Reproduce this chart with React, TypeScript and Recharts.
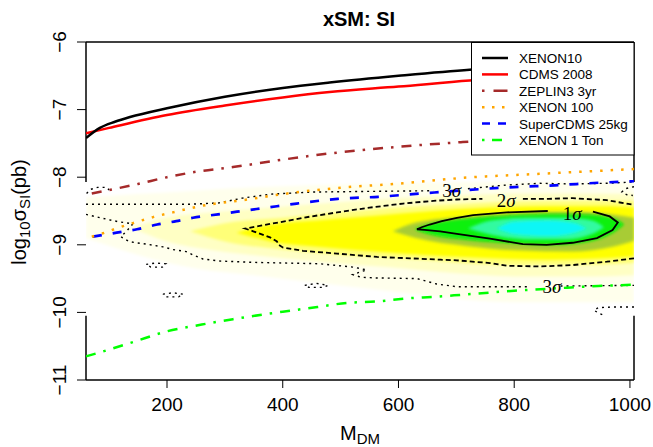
import React from 'react';
import { ComposedChart, Line, Area, Scatter, XAxis, YAxis, ReferenceLine } from 'recharts';

const massTicks = [200, 400, 600, 800, 1000];
const logTicks = [-11, -10, -9, -8, -7, -6];

type Row = [number, number | null];
type BandRow = [number, number, number];
const pts = (rows: Row[]) => rows.map(([m, v]) => ({ m, v }));
const band = (rows: BandRow[]) => rows.map(([m, lo, hi]) => ({ m, band: [lo, hi] }));

// experimental limits
const xenon10 = pts([[60, -7.42], [84, -7.27], [110, -7.18], [136, -7.11], [200, -6.98], [300, -6.81], [400, -6.68], [481, -6.6], [600, -6.5], [723, -6.41], [800, -6.37], [900, -6.32], [1007, -6.27]]);
const cdms2008 = pts([[60, -7.35], [100, -7.27], [200, -7.08], [300, -6.94], [400, -6.82], [481, -6.74], [600, -6.66], [723, -6.57], [800, -6.53], [900, -6.48], [1007, -6.43]]);
const zeplin3 = pts([[70, -8.24], [100, -8.19], [150, -8.1], [200, -8.0], [250, -7.92], [314, -7.85], [400, -7.74], [480, -7.65], [600, -7.55], [711, -7.48], [800, -7.43], [900, -7.38], [1007, -7.33]]);
const xenon100 = pts([[70, -8.88], [89, -8.83], [115, -8.75], [141, -8.68], [176, -8.59], [210, -8.52], [262, -8.42], [331, -8.34], [400, -8.25], [494, -8.16], [608, -8.09], [711, -8.01], [844, -7.95], [1007, -7.88]]);
const superCdms = pts([[72, -8.88], [113, -8.82], [148, -8.77], [183, -8.7], [216, -8.65], [245, -8.6], [288, -8.55], [321, -8.51], [355, -8.47], [390, -8.43], [424, -8.39], [495, -8.32], [565, -8.29], [640, -8.24], [792, -8.15], [870, -8.12], [950, -8.08], [1007, -8.06]]);
const xenon1ton = pts([[60, -10.65], [100, -10.55], [141, -10.44], [200, -10.28], [260, -10.18], [314, -10.1], [400, -9.99], [460, -9.92], [510, -9.86], [560, -9.84], [620, -9.79], [660, -9.77], [708, -9.74], [800, -9.68], [880, -9.64], [945, -9.61], [1007, -9.59]]);

// posterior density, drawn as nested bands
const haze = band([[60, -8.9, -8.3], [150, -9.15, -8.25], [250, -9.35, -8.2], [350, -9.45, -8.15], [450, -9.55, -8.12], [550, -9.65, -8.1], [650, -9.75, -8.08], [800, -9.85, -8.07], [1007, -9.85, -8.07]]);
const pale = band([[140, -8.75, -8.75], [200, -8.95, -8.6], [280, -9.08, -8.52], [380, -9.18, -8.45], [480, -9.26, -8.38], [580, -9.33, -8.32], [700, -9.42, -8.27], [820, -9.47, -8.24], [920, -9.47, -8.24], [1007, -9.45, -8.25]]);
const lightYellow = band([[240, -8.8, -8.8], [300, -8.95, -8.68], [400, -9.07, -8.6], [500, -9.15, -8.52], [600, -9.2, -8.45], [700, -9.26, -8.4], [800, -9.3, -8.36], [900, -9.3, -8.35], [1007, -9.27, -8.35]]);
const yellow = band([[320, -8.82, -8.82], [380, -8.95, -8.7], [460, -9.03, -8.64], [560, -9.1, -8.57], [660, -9.16, -8.5], [760, -9.2, -8.45], [860, -9.22, -8.43], [960, -9.2, -8.43], [1007, -9.17, -8.45]]);
const olive = band([[590, -8.8, -8.8], [630, -8.9, -8.67], [720, -9.02, -8.58], [800, -9.08, -8.53], [900, -9.1, -8.51], [970, -9.03, -8.55], [1007, -8.94, -8.6]]);
const green = band([[630, -8.78, -8.76], [660, -8.86, -8.68], [720, -8.93, -8.61], [800, -8.98, -8.56], [870, -9.0, -8.54], [930, -8.95, -8.55], [975, -8.8, -8.62], [990, -8.7, -8.7]]);
const aqua = band([[720, -8.76, -8.76], [760, -8.85, -8.64], [820, -8.92, -8.6], [890, -8.92, -8.6], [935, -8.84, -8.64], [955, -8.74, -8.74]]);
const cyan = band([[770, -8.76, -8.76], [800, -8.84, -8.66], [860, -8.87, -8.64], [905, -8.82, -8.68], [925, -8.76, -8.76]]);

// credible region contours
const sigma1 = pts([[936, -8.51], [965, -8.58], [979, -8.67], [970, -8.78], [943, -8.9], [901, -8.97], [856, -9.0], [815, -8.99], [758, -8.91], [701, -8.84], [672, -8.8], [645, -8.78], [632, -8.77], [640, -8.74], [654, -8.7], [675, -8.65], [701, -8.6], [729, -8.56], [787, -8.52], [858, -8.5]]);
const sigma2 = pts([[1007, -9.2], [960, -9.25], [901, -9.3], [844, -9.32], [787, -9.31], [758, -9.27], [701, -9.23], [672, -9.22], [620, -9.2], [563, -9.18], [494, -9.13], [435, -9.09], [400, -9.04], [393, -9.0], [390, -8.95], [378, -8.89], [365, -8.85], [349, -8.8], [335, -8.76], [360, -8.72], [405, -8.65], [435, -8.6], [494, -8.52], [550, -8.45], [608, -8.39], [660, -8.35], [701, -8.33], [745, -8.32], [780, null], [815, -8.32], [860, -8.32], [901, -8.31], [960, -8.34], [1007, -8.41]]);
const sigma3Upper = pts([[60, -8.4], [150, -8.4], [240, -8.4], [290, -8.38], [330, -8.31], [380, -8.25], [450, -8.22], [550, -8.21], [660, -8.2], [690, null], [720, -8.17], [780, -8.12], [844, -8.09], [900, -8.1], [960, -8.09], [1007, -8.07]]);
const sigma3Lower = pts([[60, -8.55], [100, -8.63], [117, -8.66], [141, -8.69], [130, -8.8], [120, -8.88], [134, -8.95], [146, -8.97], [164, -8.99], [193, -9.03], [210, -9.07], [233, -9.1], [245, -9.15], [262, -9.21], [290, -9.24], [350, -9.26], [405, -9.27], [464, -9.28], [521, -9.33], [545, -9.37], [521, -9.44], [535, -9.48], [560, -9.49], [632, -9.5], [666, -9.58], [701, -9.62], [827, -9.62], [850, null], [880, -9.61], [1007, -9.6]]);
const sigma3Islands = [
  pts([[61, -8.24], [68, -8.18], [80, -8.15], [96, -8.15], [100, -8.19]]),
  pts([[1007, -8.14], [992, -8.17], [986, -8.22], [995, -8.26], [1005, -8.27]]),
  pts([[164, -9.29], [180, -9.27], [198, -9.28], [192, -9.33], [172, -9.33], [164, -9.29]]),
  pts([[193, -9.73], [210, -9.71], [228, -9.73], [220, -9.77], [198, -9.77], [193, -9.73]]),
  pts([[438, -9.6], [458, -9.57], [478, -9.6], [470, -9.63], [445, -9.63], [438, -9.6]]),
  pts([[1007, -9.92], [970, -9.92], [945, -9.93], [938, -9.97], [948, -10.02], [958, -10.05]]),
];
const sigmaLabels = [
  { m: 692, v: -8.19, n: '3' },
  { m: 786, v: -8.34, n: '2' },
  { m: 900, v: -8.53, n: '1' },
  { m: 865, v: -9.61, n: '3' },
];

const legendItems = [
  { name: 'XENON10', color: '#000000', dash: undefined },
  { name: 'CDMS 2008', color: '#FF0000', dash: undefined },
  { name: 'ZEPLIN3 3yr', color: '#A52A2A', dash: '2.5 9 14 9' },
  { name: 'XENON 100', color: '#FFA500', dash: '2.5 7.5' },
  { name: 'SuperCDMS 25kg', color: '#0000FF', dash: '8 8' },
  { name: 'XENON 1 Ton', color: '#00FF00', dash: '2.5 7.5 10 7.5' },
];

const sans = '"Liberation Sans", Arial, Helvetica, sans-serif';
const serif = '"Liberation Serif", "Times New Roman", serif';

const XTick = (props: any) => (
  <text x={props.x} y={props.y} dy={21} textAnchor="middle" fontSize={19} fontFamily={sans} fill="#000">
    {props.payload.value}
  </text>
);

const YTick = (props: any) => {
  const x = props.x - 9;
  return (
    <text x={x} y={props.y} transform={`rotate(-90 ${x} ${props.y})`} textAnchor="middle" fontSize={19} fontFamily={sans} fill="#000">
      {String(props.payload.value).replace('-', '\u2212')}
    </text>
  );
};

const SigmaLabel = (props: any) => (
  <text x={props.cx} y={props.cy} dy="0.35em" textAnchor="middle" fontSize={19} fontFamily={serif} fill="#000">
    {props.payload.n}
    <tspan fontStyle="italic">σ</tspan>
  </text>
);

const bands = [
  { data: haze, fill: '#FFFFEC' },
  { data: pale, fill: '#FFFFC4' },
  { data: lightYellow, fill: '#FFFF78' },
  { data: yellow, fill: '#FFFF00' },
  { data: olive, fill: '#A8CC36' },
  { data: green, fill: '#08F008' },
  { data: aqua, fill: '#30FAA0' },
  { data: cyan, fill: '#10F6F6' },
];

const boxSegments = [
  [{ x: 60, y: -6 }, { x: 1007, y: -6 }],
  [{ x: 60, y: -11 }, { x: 1007, y: -11 }],
  [{ x: 60, y: -6 }, { x: 60, y: -8.07 }],
  [{ x: 60, y: -10.05 }, { x: 60, y: -11 }],
  [{ x: 1007, y: -6 }, { x: 1007, y: -8.07 }],
  [{ x: 1007, y: -10.05 }, { x: 1007, y: -11 }],
];

export default function App() {
  return (
    <div style={{ position: 'absolute', left: 0, top: 0, width: 653, height: 447, background: '#fff' }}>
      <ComposedChart width={653} height={447} margin={{ top: 42, right: 19, bottom: 0, left: 0 }}>
        <defs>
          <filter id="soft" filterUnits="userSpaceOnUse" x="0" y="0" width="653" height="447">
            <feGaussianBlur stdDeviation="1.8" />
          </filter>
        </defs>
        <XAxis
          dataKey="m"
          type="number"
          domain={[60, 1007]}
          ticks={massTicks}
          allowDataOverflow
          height={67}
          axisLine={false}
          tickSize={8}
          tickLine={{ stroke: '#000', strokeWidth: 1 }}
          tick={<XTick />}
        />
        <YAxis
          dataKey="v"
          type="number"
          domain={[-11, -6]}
          ticks={logTicks}
          allowDataOverflow
          width={86}
          axisLine={false}
          tickSize={9}
          tickLine={{ stroke: '#000', strokeWidth: 1 }}
          tick={<YTick />}
        />
        {bands.map((b, i) => (
          <Area
            key={`band-${i}`}
            data={b.data}
            dataKey="band"
            type="monotone"
            stroke="none"
            fill={b.fill}
            fillOpacity={1}
            filter="url(#soft)"
            style={{ filter: 'url(#soft)' }}
            isAnimationActive={false}
            dot={false}
            activeDot={false}
          />
        ))}
        {boxSegments.map((s, i) => (
          <ReferenceLine key={`box-${i}`} segment={s} stroke="#000" strokeWidth={1.5} ifOverflow="visible" />
        ))}
        <Line data={sigma3Upper} dataKey="v" type="linear" stroke="#000" strokeWidth={1.4} strokeDasharray="2 4" dot={false} isAnimationActive={false} />
        <Line data={sigma3Lower} dataKey="v" type="linear" stroke="#000" strokeWidth={1.4} strokeDasharray="2 4" dot={false} isAnimationActive={false} />
        {sigma3Islands.map((d, i) => (
          <Line key={`isl-${i}`} data={d} dataKey="v" type="linear" stroke="#000" strokeWidth={1.4} strokeDasharray="2 4" dot={false} isAnimationActive={false} />
        ))}
        <Line data={sigma2} dataKey="v" type="linear" stroke="#000" strokeWidth={1.8} strokeDasharray="5 3" dot={false} isAnimationActive={false} />
        <Line data={sigma1} dataKey="v" type="linear" stroke="#000" strokeWidth={1.8} dot={false} isAnimationActive={false} />
        <Line data={xenon1ton} dataKey="v" type="monotone" stroke="#00FF00" strokeWidth={2.5} strokeDasharray="10 8 2.5 8" dot={false} isAnimationActive={false} />
        <Line data={superCdms} dataKey="v" type="monotone" stroke="#0000FF" strokeWidth={2.7} strokeDasharray="9 11" dot={false} isAnimationActive={false} />
        <Line data={xenon100} dataKey="v" type="monotone" stroke="#FFA500" strokeWidth={2.5} strokeDasharray="2.5 8" dot={false} isAnimationActive={false} />
        <Line data={zeplin3} dataKey="v" type="monotone" stroke="#A52A2A" strokeWidth={2.5} strokeDasharray="10 8 2.5 8" dot={false} isAnimationActive={false} />
        <Line data={cdms2008} dataKey="v" type="monotone" stroke="#FF0000" strokeWidth={2.5} dot={false} isAnimationActive={false} />
        <Line data={xenon10} dataKey="v" type="monotone" stroke="#000" strokeWidth={2.5} dot={false} isAnimationActive={false} />
        <Scatter data={sigmaLabels} dataKey="v" shape={<SigmaLabel />} isAnimationActive={false} />
      </ComposedChart>
      <svg width={653} height={447} style={{ position: 'absolute', left: 0, top: 0, pointerEvents: 'none' }}>
        <text x={359} y={26} textAnchor="middle" fontSize={20} fontWeight="bold" fontFamily={sans}>xSM: SI</text>
        <text x={360} y={440} textAnchor="middle" fontSize={20} fontFamily={sans}>
          M<tspan fontSize={15} dy={4}>DM</tspan>
        </text>
        <text x={26} y={212} transform="rotate(-90 26 212)" textAnchor="middle" fontSize={20} fontFamily={sans}>
          log<tspan fontSize={15} dy={4}>10</tspan>
          <tspan dy={-4}>σ</tspan>
          <tspan fontSize={15} dy={4}>SI</tspan>
          <tspan dy={-4}>(pb)</tspan>
        </text>
        <g transform="translate(471 42)">
          <rect x={0.5} y={0.5} width={162.5} height={112.5} fill="#fff" stroke="#000" strokeWidth={1} />
          {legendItems.map((it, i) => {
            const cy = 16 + i * 16.4;
            return (
              <g key={it.name}>
                <line x1={11} x2={37} y1={cy} y2={cy} stroke={it.color} strokeWidth={2.5} strokeDasharray={it.dash} />
                <text x={48} y={cy + 5} fontSize={13.5} fontFamily={sans} fill="#000">{it.name}</text>
              </g>
            );
          })}
        </g>
      </svg>
    </div>
  );
}
